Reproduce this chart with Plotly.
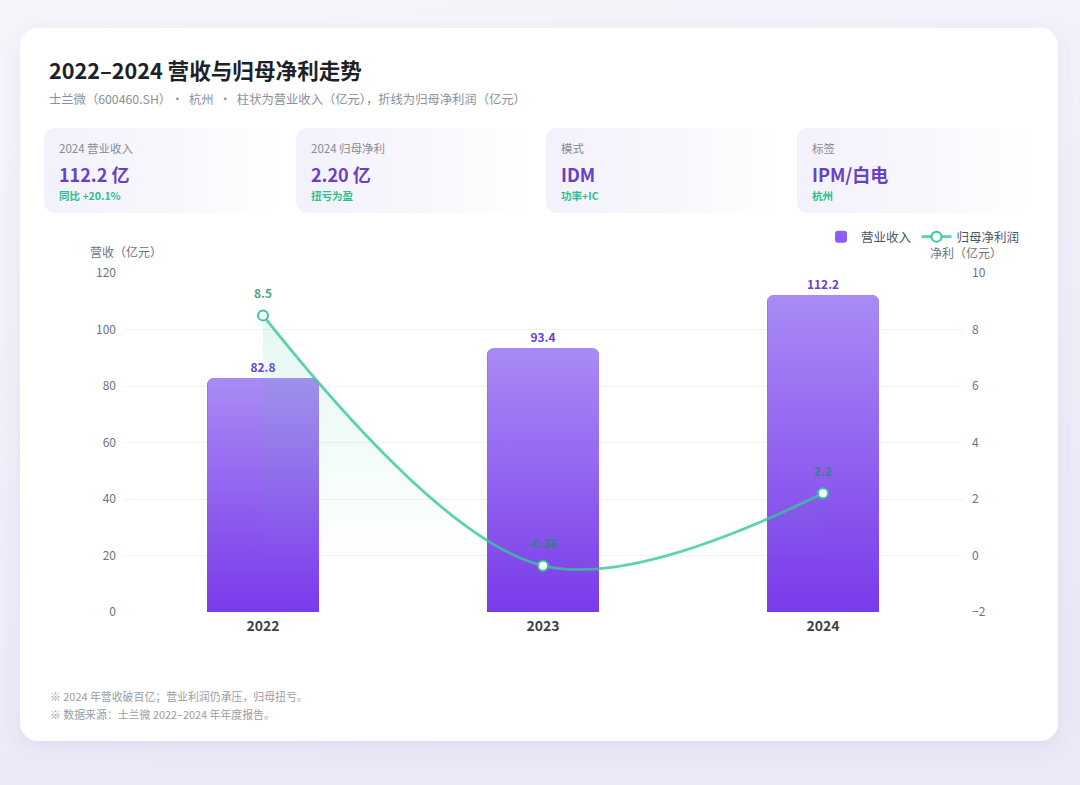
import base64, math
import plotly.graph_objects as go

# ---------------- data ----------------
years = ["2022", "2023", "2024"]
revenue = [82.8, 93.4, 112.2]          # 营业收入 (亿元)
net_profit = [8.5, -0.36, 2.2]          # 归母净利润 (亿元)
rev_ticks = [0, 20, 40, 60, 80, 100, 120]
np_ticks = [-2, 0, 2, 4, 6, 8, 10]
kpi_labels = ["2024 营业收入", "2024 归母净利", "模式", "标签"]
kpi_values = ["112.2 亿", "2.20 亿", "IDM", "IPM/白电"]
kpi_notes = ["同比 +20.1%", "扭亏为盈", "功率+IC", "杭州"]
title = "2022–2024 营收与归母净利走势"
subtitle = "士兰微（600460.SH）•  杭州  •  柱状为营业收入（亿元），折线为归母净利润（亿元）"
notes = ["※ 2024 年营收破百亿；营业利润仍承压，归母扭亏。",
         "※ 数据来源：士兰微 2022–2024 年年度报告。"]

# ---------------- layout constants ----------------
W, H = 1080, 785
PL, PR, PT, PB = 123, 963, 273, 612
FONT = "Noto Sans CJK SC"
PURPLE_TXT = "#6b3fd0"
GREEN = "#34c79a"

def fx(x):
    return x / W

def fy(y):
    return 1 - y / H

# ---------------- background svg ----------------
kpi_x = [44, 296, 546, 797]
kpi_w = 238
svg = [f'<svg xmlns="http://www.w3.org/2000/svg" width="{W}" height="{H}" viewBox="0 0 {W} {H}">',
       '<defs>',
       '<linearGradient id="bg" x1="0" y1="0" x2="0.3" y2="1"><stop offset="0" stop-color="#f6f5fb"/><stop offset="1" stop-color="#ebe9f6"/></linearGradient>',
       '<linearGradient id="kp" x1="0" y1="0" x2="1" y2="0"><stop offset="0" stop-color="#f3f1fb"/><stop offset="0.55" stop-color="#f8f7fd"/><stop offset="1" stop-color="#ffffff"/></linearGradient>',
       '<filter id="sh" x="-10%" y="-10%" width="120%" height="130%"><feDropShadow dx="0" dy="6" stdDeviation="9" flood-color="#6a5cb8" flood-opacity="0.10"/></filter>',
       '</defs>',
       f'<rect x="0" y="0" width="{W}" height="{H}" fill="url(#bg)"/>',
       '<rect x="20" y="28" width="1038" height="713" rx="18" fill="#ffffff" filter="url(#sh)"/>']
for x in kpi_x:
    svg.append(f'<rect x="{x}" y="128" width="{kpi_w}" height="85" rx="11" fill="url(#kp)"/>')
svg.append('</svg>')
bg_uri = "data:image/svg+xml;base64," + base64.b64encode("".join(svg).encode()).decode()

fig = go.Figure()

# bars (base trace: legend + labels)
xi = list(range(len(years)))
fig.add_trace(go.Bar(
    x=xi, y=revenue, width=0.4, name="营业收入",
    marker=dict(color="#8b5cf6", cornerradius=7, line=dict(width=0)),
    text=[f"{v:.1f}" for v in revenue], textposition="outside",
    textfont=dict(color=PURPLE_TXT, size=12, family=FONT, weight="bold"),
    cliponaxis=False, yaxis="y", xaxis="x",
))

# gradient overlays computed from the data values
px_per_x = (PR - PL) / len(years)
px_per_y = (PB - PT) / (rev_ticks[-1] - rev_ticks[0])
r = 7
rx, ry = r / px_per_x, r / px_per_y
for i, v in enumerate(revenue):
    x0, x1 = i - 0.2, i + 0.2
    xs, ys = [x0], [0]
    for k in range(9):
        a = math.pi - k * (math.pi / 2) / 8
        xs.append(x0 + rx + rx * math.cos(a)); ys.append(v - ry + ry * math.sin(a))
    for k in range(9):
        a = math.pi / 2 - k * (math.pi / 2) / 8
        xs.append(x1 - rx + rx * math.cos(a)); ys.append(v - ry + ry * math.sin(a))
    xs += [x1, x0]; ys += [0, 0]
    fig.add_trace(go.Scatter(
        x=xs, y=ys, mode="lines", fill="toself", line=dict(width=0),
        fillgradient=dict(type="vertical", colorscale=[[0, "#7a3aea"], [1, "#a98bf5"]]),
        showlegend=False, hoverinfo="skip", yaxis="y", xaxis="x",
    ))

# net profit line
fig.add_trace(go.Scatter(
    x=xi, y=net_profit, name="归母净利润", mode="lines+markers",
    line=dict(color="rgba(52,199,154,0.8)", width=2.8, shape="spline", smoothing=1.0),
    marker=dict(size=10, color="#ffffff", line=dict(color=GREEN, width=2)),
    fill="tozeroy",
    fillgradient=dict(type="vertical", colorscale=[[0, "rgba(52,199,154,0)"], [1, "rgba(52,199,154,0.13)"]]),
    yaxis="y2", xaxis="x", cliponaxis=False,
))

annotations = []
for i, v in enumerate(net_profit):
    annotations.append(dict(
        x=i, y=v, xref="x", yref="y2", text=f"{v:g}", showarrow=False, yshift=23,
        font=dict(family=FONT, size=12, color="rgba(26,140,100,0.8)", weight="bold")))

# texts
annotations.append(dict(x=fx(47), y=fy(70), xref="paper", yref="paper", xanchor="left", yanchor="middle",
                        text=title, showarrow=False, font=dict(family=FONT, size=21.6, color="#1d2129", weight="bold")))
annotations.append(dict(x=fx(47), y=fy(99), xref="paper", yref="paper", xanchor="left", yanchor="middle",
                        text=subtitle, showarrow=False, font=dict(family=FONT, size=12.3, color="#8a8f99")))
for x, lab, val, note in zip(kpi_x, kpi_labels, kpi_values, kpi_notes):
    annotations.append(dict(x=fx(x + 13), y=fy(148), xref="paper", yref="paper", xanchor="left", yanchor="middle",
                            text=lab, showarrow=False, font=dict(family=FONT, size=11.5, color="#868b95")))
    annotations.append(dict(x=fx(x + 13), y=fy(174), xref="paper", yref="paper", xanchor="left", yanchor="middle",
                            text=val, showarrow=False, font=dict(family=FONT, size=18, color="#6a3fc8", weight="bold")))
    annotations.append(dict(x=fx(x + 13), y=fy(196), xref="paper", yref="paper", xanchor="left", yanchor="middle",
                            text=note, showarrow=False, font=dict(family=FONT, size=10.5, color="#2fbf8a", weight="bold")))
annotations.append(dict(x=fx(88), y=fy(252), xref="paper", yref="paper", xanchor="left", yanchor="middle",
                        text="营收（亿元）", showarrow=False, font=dict(family=FONT, size=12, color="#6b7280")))
annotations.append(dict(x=fx(928), y=fy(253), xref="paper", yref="paper", xanchor="left", yanchor="middle",
                        text="净利（亿元）", showarrow=False, font=dict(family=FONT, size=12, color="#6b7280")))
for k, t in enumerate(notes):
    annotations.append(dict(x=fx(48), y=fy(696 + 18 * k), xref="paper", yref="paper", xanchor="left", yanchor="middle",
                            text=t, showarrow=False, font=dict(family=FONT, size=10.9, color="#9a9ca3")))

fig.update_layout(
    width=W, height=H, margin=dict(l=0, r=0, t=0, b=0, autoexpand=False),
    paper_bgcolor="#eeedf7", plot_bgcolor="rgba(0,0,0,0)",
    font=dict(family=FONT, color="#6b7280"),
    images=[dict(source=bg_uri, xref="paper", yref="paper", x=0, y=1, sizex=1, sizey=1,
                 xanchor="left", yanchor="top", sizing="stretch", layer="below")],
    xaxis=dict(domain=[fx(PL), fx(PR)], range=[-0.5, len(years) - 0.5], tickvals=xi, ticktext=years,
               showgrid=False, zeroline=False, showline=False, ticks="", ticklabelstandoff=4, automargin=False,
               tickfont=dict(family=FONT, size=14, color="#3b3f47", weight="bold"), fixedrange=True),
    yaxis=dict(domain=[fy(PB), fy(PT)], range=[rev_ticks[0], rev_ticks[-1]], tickvals=rev_ticks,
               showgrid=True, gridcolor="#f3f3f6", gridwidth=1, zeroline=False, showline=False, automargin=False,
               tickfont=dict(family=FONT, size=12, color="#6b7280"), ticks="", ticklabelstandoff=6),
    yaxis2=dict(overlaying="y", side="right", range=[np_ticks[0], np_ticks[-1]], tickvals=np_ticks,
                showgrid=False, zeroline=False, showline=False, automargin=False,
                tickfont=dict(family=FONT, size=12, color="#6b7280"), ticks="", ticklabelstandoff=8),
    legend=dict(orientation="h", x=fx(1025), xanchor="right", y=fy(237), yanchor="middle",
                font=dict(family=FONT, size=12.5, color="#4b5563"), bgcolor="rgba(0,0,0,0)",
                itemwidth=30, traceorder="normal"),
    annotations=annotations, bargap=0.6, showlegend=True,
)

post = ("document.documentElement.style.margin='0';document.body.style.margin='0';"
        "document.body.style.overflow='hidden';document.documentElement.style.overflow='hidden';"
        "var d=document.getElementsByClassName('plotly-graph-div')[0];"
        "d.style.position='fixed';d.style.left='0px';d.style.top='0px';")
fig.write_html("out.html", config={"displayModeBar": False}, post_script=post)
